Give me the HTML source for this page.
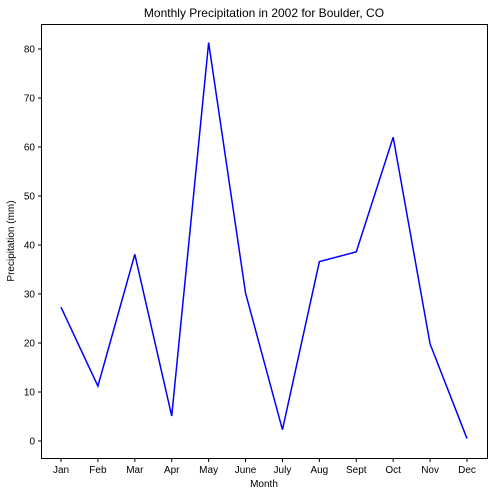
<!DOCTYPE html>
<html><head><meta charset="utf-8"><style>
body{margin:0;background:#fff;font-family:"Liberation Sans","DejaVu Sans",sans-serif}
svg text{font-size:10px;fill:#000}
</style></head><body>
<svg id="chart" width="497" height="496" xmlns="http://www.w3.org/2000/svg">
<text x="264" y="17" text-anchor="middle" style="font-size:12px">Monthly Precipitation in 2002 for Boulder, CO</text>
<rect x="41.5" y="24.5" width="446" height="434" fill="none" stroke="#000" stroke-width="1"/>
<g id="xticks"></g>
<g id="yticks"></g>
<text x="264" y="487" text-anchor="middle">Month</text>
<text transform="translate(14,241) rotate(-90)" text-anchor="middle">Precipitation (mm)</text>
</svg>
<script>
const months=["Jan","Feb","Mar","Apr","May","June","July","Aug","Sept","Oct","Nov","Dec"];
const precip=[27.3,11.2,38.1,5.1,81.3,30.2,2.3,36.6,38.6,62.0,19.8,0.5];
const yTicks=[0,10,20,30,40,50,60,70,80];
const NS="http://www.w3.org/2000/svg";
const svg=document.getElementById('chart');
const xs=i=>61+i*(467-61)/11;
const ys=v=>441-v*4.9;
const xg=document.getElementById('xticks'),yg=document.getElementById('yticks');
months.forEach((m,i)=>{
 const l=document.createElementNS(NS,'line');
 
 
 l.setAttribute('x1',xs(i));l.setAttribute('x2',xs(i));l.setAttribute('y1',458.5);l.setAttribute('y2',462);l.setAttribute('stroke','#000');
 xg.appendChild(l);
 const t=document.createElementNS(NS,'text');
 
 
 t.setAttribute('x',xs(i));t.setAttribute('y',473);t.setAttribute('text-anchor','middle');t.textContent=m;
 xg.appendChild(t);
});
yTicks.forEach(v=>{
 const l=document.createElementNS(NS,'line');
 
 
 l.setAttribute('x1',38);l.setAttribute('x2',41.5);l.setAttribute('y1',ys(v));l.setAttribute('y2',ys(v));l.setAttribute('stroke','#000');
 yg.appendChild(l);
 const t=document.createElementNS(NS,'text');
 
 
 t.setAttribute('x',35);t.setAttribute('y',ys(v)+3.5);t.setAttribute('text-anchor','end');t.textContent=v;
 yg.appendChild(t);
});
const p=document.createElementNS(NS,'polyline');


p.setAttribute('points',precip.map((v,i)=>xs(i)+','+ys(v)).join(' '));
p.setAttribute('fill','none');p.setAttribute('stroke','#0000ff');p.setAttribute('stroke-width','1.5');
svg.appendChild(p);
</script>
</body></html>
